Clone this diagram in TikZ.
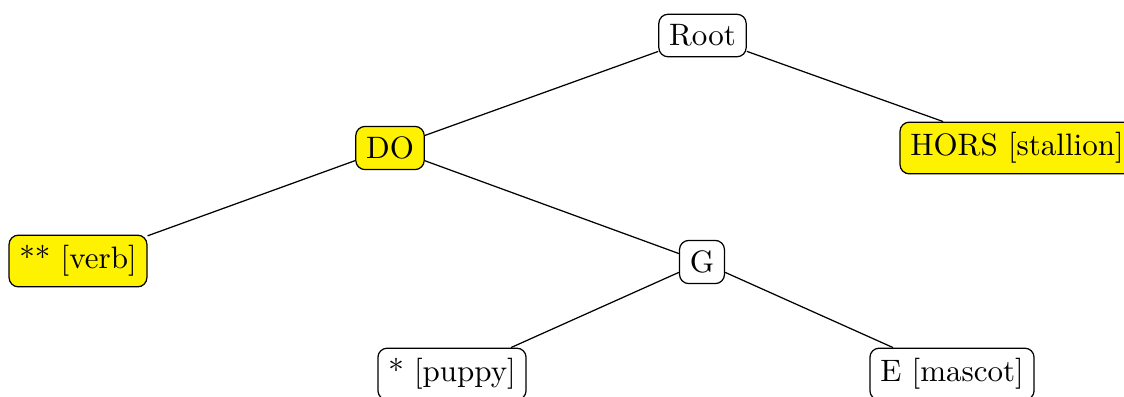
\documentclass[tikz,border=0pt]{standalone}
\begin{document}
\begin{tikzpicture}[x=1pt/3.1,y=-1pt/3.1,
  tn/.style={draw,rounded corners=3pt,inner sep=3.333pt},
  hl/.style={tn,fill=yellow}]
\useasboundingbox (0,0) rectangle (1124,396);
\node[tn] (root) at (702.5,35.5) {Root};
\node[hl] (do) at (390,148) {DO};
\node[hl] (hors) at (1017,148) {HORS [stallion]};
\node[hl] (verb) at (78,261) {** [verb]};
\node[tn] (g) at (702,262) {G};
\node[tn] (puppy) at (452,374) {* [puppy]};
\node[tn] (mascot) at (952,374) {E [mascot]};
\draw (root) -- (do);
\draw (root) -- (hors);
\draw (do) -- (verb);
\draw (do) -- (g);
\draw (g) -- (puppy);
\draw (g) -- (mascot);
\end{tikzpicture}
\end{document}
